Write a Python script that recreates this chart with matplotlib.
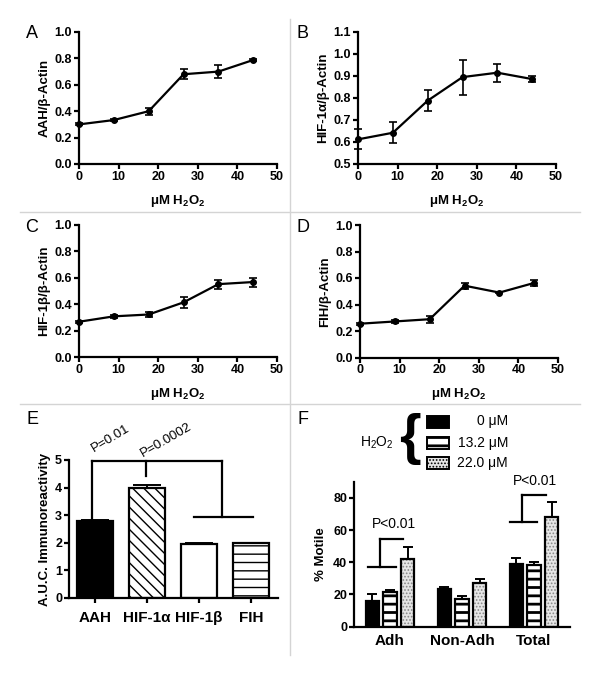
import matplotlib
matplotlib.use("Agg")
import matplotlib.pyplot as plt
import numpy as np
from matplotlib.lines import Line2D
from matplotlib.patches import Rectangle

plt.rcParams['font.family'] = ['Liberation Sans', 'DejaVu Sans']
plt.rcParams['mathtext.default'] = 'regular'
plt.rcParams['axes.linewidth'] = 1.6
plt.rcParams['xtick.major.width'] = 1.6
plt.rcParams['ytick.major.width'] = 1.6
plt.rcParams['xtick.major.size'] = 3.5
plt.rcParams['ytick.major.size'] = 3.5
plt.rcParams['xtick.major.pad'] = 1.5
plt.rcParams['ytick.major.pad'] = 1.5

# ---------------- data ----------------
h2o2_um = [0, 8.8, 17.6, 26.4, 35.2, 44.0]

aah_mean = [0.30, 0.333, 0.40, 0.68, 0.70, 0.788]
aah_err = [0.008, 0.008, 0.028, 0.038, 0.052, 0.008]

hif1a_mean = [0.612, 0.642, 0.788, 0.895, 0.915, 0.886]
hif1a_err = [0.045, 0.048, 0.048, 0.080, 0.041, 0.012]

hif1b_mean = [0.267, 0.308, 0.322, 0.414, 0.552, 0.568]
hif1b_err = [0.008, 0.01, 0.018, 0.04, 0.034, 0.034]

fih_mean = [0.255, 0.272, 0.289, 0.542, 0.49, 0.563]
fih_err = [0.008, 0.014, 0.026, 0.022, 0.006, 0.022]

auc_labels = ['AAH', 'HIF-1α', 'HIF-1β', 'FIH']
auc_mean = [2.80, 4.00, 1.96, 1.98]
auc_err = [0.035, 0.11, 0.03, 0.03]

motile_groups = ['Adh', 'Non-Adh', 'Total']
motile_0 = [15.9, 23.4, 38.7]
motile_0_err = [4.2, 1.4, 3.9]
motile_13 = [21.5, 17.4, 38.3]
motile_13_err = [1.3, 1.8, 1.8]
motile_22 = [41.8, 26.9, 68.2]
motile_22_err = [7.4, 2.9, 9.1]
dose_labels = ['0 μM', '13.2 μM', '22.0 μM']

W, H = 600, 675
fig = plt.figure(figsize=(6, 6.75), dpi=100)


def fr(left, top, right, bottom):
    return [left / W, 1 - bottom / H, (right - left) / W, (bottom - top) / H]


def style(ax):
    ax.spines['top'].set_visible(False)
    ax.spines['right'].set_visible(False)
    for lab in ax.get_xticklabels() + ax.get_yticklabels():
        lab.set_fontweight('bold')


def line_panel(rect, y, yerr, ylabel, ylim, yticks):
    ax = fig.add_axes(rect)
    ax.errorbar(h2o2_um, y, yerr=yerr, fmt='-o', color='black', lw=1.6,
                ms=4, elinewidth=1.2, capsize=3, capthick=1.2, clip_on=False,
                zorder=3)
    ax.set_xlim(0, 50)
    ax.set_xticks([0, 10, 20, 30, 40, 50])
    ax.set_ylim(*ylim)
    ax.set_yticks(yticks)
    ax.set_yticklabels([f'{t:.1f}' for t in yticks])
    ax.tick_params(labelsize=9)
    ax.set_xlabel('μM H$_2$O$_2$', fontsize=9.5, fontweight='bold', labelpad=7)
    ax.set_ylabel(ylabel, fontsize=9.5, fontweight='bold', labelpad=3)
    style(ax)
    return ax


line_panel(fr(79, 32, 277, 164), aah_mean, aah_err, 'AAH/β-Actin',
           (0, 1.0), np.arange(0, 1.01, 0.2))
line_panel(fr(358, 32, 556, 164), hif1a_mean, hif1a_err, 'HIF-1α/β-Actin',
           (0.5, 1.1), np.arange(0.5, 1.101, 0.1))
line_panel(fr(79, 225, 277, 357), hif1b_mean, hif1b_err, 'HIF-1β/β-Actin',
           (0, 1.0), np.arange(0, 1.01, 0.2))
line_panel(fr(360, 225, 558, 357.5), fih_mean, fih_err, 'FIH/β-Actin',
           (0, 1.0), np.arange(0, 1.01, 0.2))

# ---------------- panel E ----------------
axE = fig.add_axes(fr(69, 460, 278, 598))
xE = np.arange(len(auc_labels))
faces = ['black', 'white', 'white', 'white']
hatches = [None, '\\\\\\', None, '--']
for i in range(len(auc_labels)):
    with plt.rc_context({'hatch.linewidth': 1.0}):
        axE.bar(xE[i], auc_mean[i], width=0.68, color=faces[i], edgecolor='black',
                linewidth=1.6, hatch=hatches[i], zorder=2)
axE.errorbar(xE, auc_mean, yerr=[np.zeros(4), auc_err], fmt='none', ecolor='black',
             elinewidth=1.4, capsize=10, capthick=1.4, zorder=3)
axE.set_xlim(-0.5, 3.52)
axE.set_ylim(0, 5)
axE.set_yticks(range(6))
axE.set_xticks(xE)
axE.set_xticklabels(auc_labels)
axE.tick_params(axis='x', labelsize=11, pad=6)
axE.tick_params(axis='y', labelsize=9)
axE.set_ylabel('A.U.C. Immunoreactivity', fontsize=9.5, fontweight='bold', labelpad=3)
style(axE)
bk = dict(color='black', lw=1.6, clip_on=False, zorder=4)
axE.plot([-0.06, 2.45], [4.97, 4.97], **bk)
axE.plot([-0.06, -0.06], [4.97, 2.58], **bk)
axE.plot([0.98, 0.98], [4.97, 4.43], **bk)
axE.plot([2.45, 2.45], [4.97, 2.92], **bk)
axE.plot([1.91, 3.03], [2.92, 2.92], **bk)
fig.text(111 / W, 1 - 438 / H, 'P=0.01', fontsize=9.5, rotation=31,
         ha='center', va='center')
fig.text(166 / W, 1 - 440 / H, 'P=0.0002', fontsize=9.5, rotation=30,
         ha='center', va='center')

# ---------------- panel F ----------------
axF = fig.add_axes(fr(354, 481.7, 570, 626.7))
xF = np.arange(len(motile_groups))
off, bw = 0.245, 0.185
axF.bar(xF - off, motile_0, width=bw, color='black', edgecolor='black',
        linewidth=1.6, zorder=2)
with plt.rc_context({'hatch.linewidth': 2.0}):
    axF.bar(xF, motile_13, width=bw, color='white', edgecolor='black',
            linewidth=1.6, hatch='--', zorder=2)
with plt.rc_context({'hatch.linewidth': 0.8}):
    axF.bar(xF + off, motile_22, width=bw, color='#e6e6e6', edgecolor='#888888',
            linewidth=0, hatch='.....', zorder=2)
axF.bar(xF + off, motile_22, width=bw, fill=False, edgecolor='black',
        linewidth=1.6, zorder=2.5)
for dx, m, e in [(-off, motile_0, motile_0_err), (0, motile_13, motile_13_err),
                 (off, motile_22, motile_22_err)]:
    axF.errorbar(xF + dx, m, yerr=[np.zeros(3), e], fmt='none', ecolor='black',
                 elinewidth=1.4, capsize=3.5, capthick=1.4, zorder=3)
axF.set_xlim(-0.5, 2.5)
axF.set_ylim(0, 90)
axF.set_yticks([0, 20, 40, 60, 80])
axF.set_xticks(xF)
axF.set_xticklabels(motile_groups)
axF.tick_params(axis='x', length=0, labelsize=11, pad=5)
axF.tick_params(axis='y', labelsize=9)
axF.set_ylabel('% Motile', fontsize=9.5, fontweight='bold', labelpad=4)
style(axF)
axF.plot([-0.31, 0.08], [37.2, 37.2], **bk)
axF.plot([-0.14, -0.14], [37.2, 54.6], **bk)
axF.plot([-0.14, 0.18], [54.6, 54.6], **bk)
axF.text(0.06, 63.5, 'P<0.01', fontsize=10, ha='center', va='center')
axF.plot([1.67, 2.04], [65.1, 65.1], **bk)
axF.plot([1.84, 1.84], [65.1, 81.7], **bk)
axF.plot([1.84, 2.17], [81.7, 81.7], **bk)
axF.text(2.01, 90.5, 'P<0.01', fontsize=10, ha='center', va='center', clip_on=False)

# legend for F
rows_y = [421.5, 442.5, 462.5]
legend_styles = [dict(facecolor='black', hatch=None, hlw=1.0),
                 dict(facecolor='white', hatch='--', hlw=2.0),
                 dict(facecolor='#e6e6e6', hatch='.....', hlw=0.8)]
for yy, lab, st in zip(rows_y, dose_labels, legend_styles):
    with plt.rc_context({'hatch.linewidth': st['hlw']}):
        r = Rectangle((427 / W, 1 - (yy + 6) / H), 22 / W, 12 / H,
                      transform=fig.transFigure, facecolor=st['facecolor'],
                      edgecolor='black', linewidth=1.4, hatch=st['hatch'])
    fig.patches.append(r)
    fig.text(508 / W, 1 - yy / H, lab, fontsize=10, ha='right', va='center')
fig.text(394 / W, 1 - 443 / H, 'H$_2$O$_2$', fontsize=10, ha='right', va='center')
fig.text(410 / W, 1 - 439 / H, '{', fontsize=40, fontweight='bold',
         ha='center', va='center', family=['Liberation Sans'])

# panel letters
for lab, x, y in [('A', 32, 33), ('B', 303, 33), ('C', 32, 228),
                  ('D', 303, 228), ('E', 32, 420), ('F', 303, 420)]:
    fig.text(x / W, 1 - y / H, lab, fontsize=13, ha='center', va='center')

# separators
sep = dict(color='#d4d4d4', lw=1.0, transform=fig.transFigure)
fig.add_artist(Line2D([290 / W, 290 / W], [1 - 19 / H, 1 - 655 / H], **sep))
fig.add_artist(Line2D([20 / W, 580 / W], [1 - 212 / H, 1 - 212 / H], **sep))
fig.add_artist(Line2D([20 / W, 580 / W], [1 - 404 / H, 1 - 404 / H], **sep))

fig.savefig('out.png', dpi=100, facecolor='white')
